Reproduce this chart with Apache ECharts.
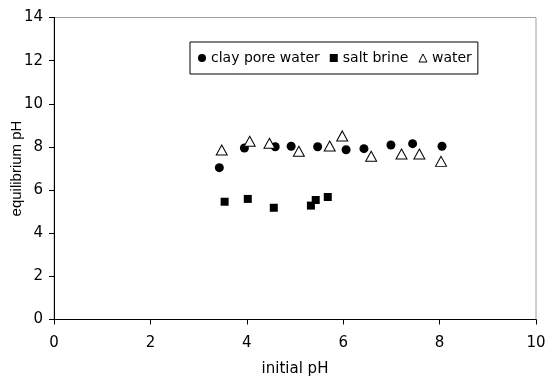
<!DOCTYPE html>
<html>
<head>
<meta charset="utf-8">
<script src="https://cdn.jsdelivr.net/npm/echarts@6/dist/echarts.min.js"></script>
<style>
html,body{margin:0;padding:0;background:#fff;}
#chart{width:545px;height:377px;}
</style>
</head>
<body>
<div id="chart"></div>
<script>
// Data
var clayX = [3.43, 3.95, 4.59, 4.92, 5.47, 6.06, 6.43, 6.99, 7.44, 8.05];
var clayY = [7.04, 7.95, 8.01, 8.03, 8.01, 7.87, 7.92, 8.09, 8.15, 8.03];
var brineX = [3.54, 4.02, 4.56, 5.33, 5.43, 5.68];
var brineY = [5.46, 5.59, 5.18, 5.28, 5.54, 5.68];
var waterX = [3.48, 4.06, 4.47, 5.08, 5.72, 5.98, 6.58, 7.21, 7.58, 8.03];
var waterY = [7.86, 8.26, 8.17, 7.80, 8.04, 8.51, 7.57, 7.67, 7.67, 7.33];
var seriesNames = ['clay pore water', 'salt brine', 'water'];
var xTicks = [0, 2, 4, 6, 8, 10];
var yTicks = [0, 2, 4, 6, 8, 10, 12, 14];

function pairs(xs, ys) { return xs.map(function (x, i) { return [x, ys[i]]; }); }

var WIDE = 'DejaVu Sans, Verdana, sans-serif';
var ARIAL = 'Liberation Sans, Arial, sans-serif';
var chart = echarts.init(document.getElementById('chart'), null, {renderer: 'canvas'});
chart.setOption({
  animation: false,
  backgroundColor: '#fff',
  textStyle: {fontFamily: WIDE},
  grid: {left: 54, right: 9, top: 17.5, bottom: 57.5, containLabel: false, outerBoundsMode: 'none',
         show: true, borderColor: '#a0a0a0', borderWidth: 1, backgroundColor: 'transparent'},
  legend: {
    left: 190, top: 42,
    padding: [9, 6, 9, 8],
    itemGap: 10,
    itemWidth: 8, itemHeight: 8,
    borderColor: '#000', borderWidth: 1,
    textStyle: {fontFamily: WIDE, fontSize: 14, color: '#000'},
    data: [
      {name: seriesNames[0], icon: 'circle', itemStyle: {color: '#000'}},
      {name: seriesNames[1], icon: 'rect', itemStyle: {color: '#000'}},
      {name: seriesNames[2], icon: 'triangle', itemStyle: {color: '#fff', borderColor: '#000', borderWidth: 1}}
    ]
  },
  xAxis: {
    type: 'value', min: xTicks[0], max: xTicks[xTicks.length - 1], interval: 2,
    name: 'initial pH', nameLocation: 'middle', nameGap: 42, nameMoveOverlap: false,
    nameTextStyle: {fontFamily: WIDE, fontSize: 15, color: '#000'},
    axisLine: {show: true, onZero: false, lineStyle: {color: '#000', width: 1}},
    axisTick: {show: true, inside: false, length: 5, lineStyle: {color: '#000'}},
    axisLabel: {fontFamily: WIDE, fontSize: 15, color: '#000', margin: 16, hideOverlap: false},
    splitLine: {show: false}
  },
  yAxis: {
    type: 'value', min: yTicks[0], max: yTicks[yTicks.length - 1], interval: 2,
    name: 'equilibrium pH', nameLocation: 'middle', nameGap: 30, nameRotate: 90, nameMoveOverlap: false,
    nameTextStyle: {fontFamily: ARIAL, fontSize: 15, color: '#000'},
    axisLine: {show: true, onZero: false, lineStyle: {color: '#000', width: 1}},
    axisTick: {show: true, inside: false, length: 5, lineStyle: {color: '#000'}},
    axisLabel: {fontFamily: WIDE, fontSize: 15, color: '#000', margin: 11},
    splitLine: {show: false}
  },
  series: [
    {name: seriesNames[0], type: 'scatter', symbol: 'circle', symbolSize: 9,
     itemStyle: {color: '#000', opacity: 1}, data: pairs(clayX, clayY)},
    {name: seriesNames[1], type: 'scatter', symbol: 'rect', symbolSize: 8,
     itemStyle: {color: '#000', opacity: 1}, data: pairs(brineX, brineY)},
    {name: seriesNames[2], type: 'scatter', symbol: 'triangle', symbolSize: [11, 10],
     itemStyle: {color: '#fff', borderColor: '#000', borderWidth: 1, opacity: 1}, data: pairs(waterX, waterY)}
  ]
});
</script>
</body>
</html>
